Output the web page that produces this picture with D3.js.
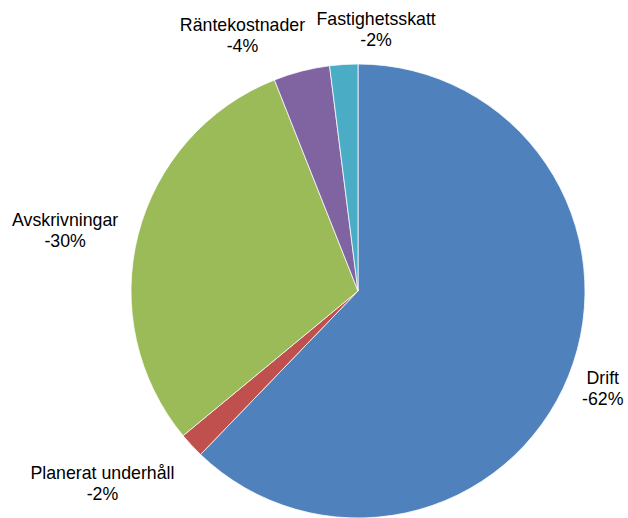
<!DOCTYPE html>
<html>
<head>
<meta charset="utf-8">
<script src="https://cdn.jsdelivr.net/npm/d3@7"></script>
<style>
  html, body { margin: 0; padding: 0; background: #fff; }
  svg { display: block; }
</style>
</head>
<body>
<div id="chart"></div>
<script>
// Cost split (share of total, negative = cost)
const categories = ['Drift', 'Planerat underhåll', 'Avskrivningar', 'Räntekostnader', 'Fastighetsskatt'];
const values = [-62.2, -1.8, -30.0, -4.0, -2.0];
const colors = ['#4F81BD', '#C0504D', '#9BBB59', '#8064A2', '#4BACC6'];

// label nudges (Excel best-fit placement differs from plain radial)
const labelNudge = {
  'Drift': [2, -1],
  'Planerat underhåll': [-26, 15],
  'Avskrivningar': [-8, 4],
  'Räntekostnader': [-40, -3],
  'Fastighetsskatt': [37, -2]
};

const W = 628, H = 518;
const CX = 358, CY = 291, R = 227;
const LABEL_R = R + 14;
const LINE_H = 21;

const rows = categories.map((c, i) => ({ name: c, value: values[i], color: colors[i] }));
const total = d3.sum(rows, d => Math.abs(d.value));

const svg = d3.select('#chart').append('svg')
  .attr('width', W)
  .attr('height', H)
  .style('font-family', '"Liberation Sans", Arial, sans-serif')
  .style('font-size', '17.75px');

const g = svg.append('g').attr('transform', `translate(${CX},${CY})`);

const pie = d3.pie().sort(null).value(d => Math.abs(d.value));
const arc = d3.arc().innerRadius(0).outerRadius(R);
const arcs = pie(rows);

g.selectAll('path.slice')
  .data(arcs)
  .enter().append('path')
  .attr('class', 'slice')
  .attr('d', arc)
  .attr('fill', d => d.data.color)
  .attr('stroke', '#fff')
  .attr('stroke-width', 0.75)
  .attr('stroke-linejoin', 'round');

const fmt = v => `${Math.round(v / total * 100)}%`.replace(/^(\d)/, '-$1');

const labels = g.selectAll('g.label')
  .data(arcs)
  .enter().append('g')
  .attr('class', 'label');

labels.each(function (d) {
  const sel = d3.select(this);
  const t = sel.append('text').attr('text-anchor', 'middle').attr('fill', '#000');
  t.append('tspan').attr('x', 0).attr('y', -4).text(d.data.name);
  t.append('tspan').attr('x', 0).attr('y', -4 + LINE_H)
    .text(d.data.value < 0 ? `-${Math.round(Math.abs(d.data.value) / total * 100)}%` : fmt(d.data.value));

  const w = t.node().getComputedTextLength();
  const bw = Math.max(...t.selectAll('tspan').nodes().map(n => n.getComputedTextLength()));
  const mid = (d.startAngle + d.endAngle) / 2;
  const s = Math.sin(mid), c = Math.cos(mid);
  const nudge = labelNudge[d.data.name] || [0, 0];
  const x = LABEL_R * s + s * bw / 2 + nudge[0];
  const y = -LABEL_R * c - c * 20 + nudge[1];
  sel.attr('transform', `translate(${x},${y})`);
});
</script>
</body>
</html>
